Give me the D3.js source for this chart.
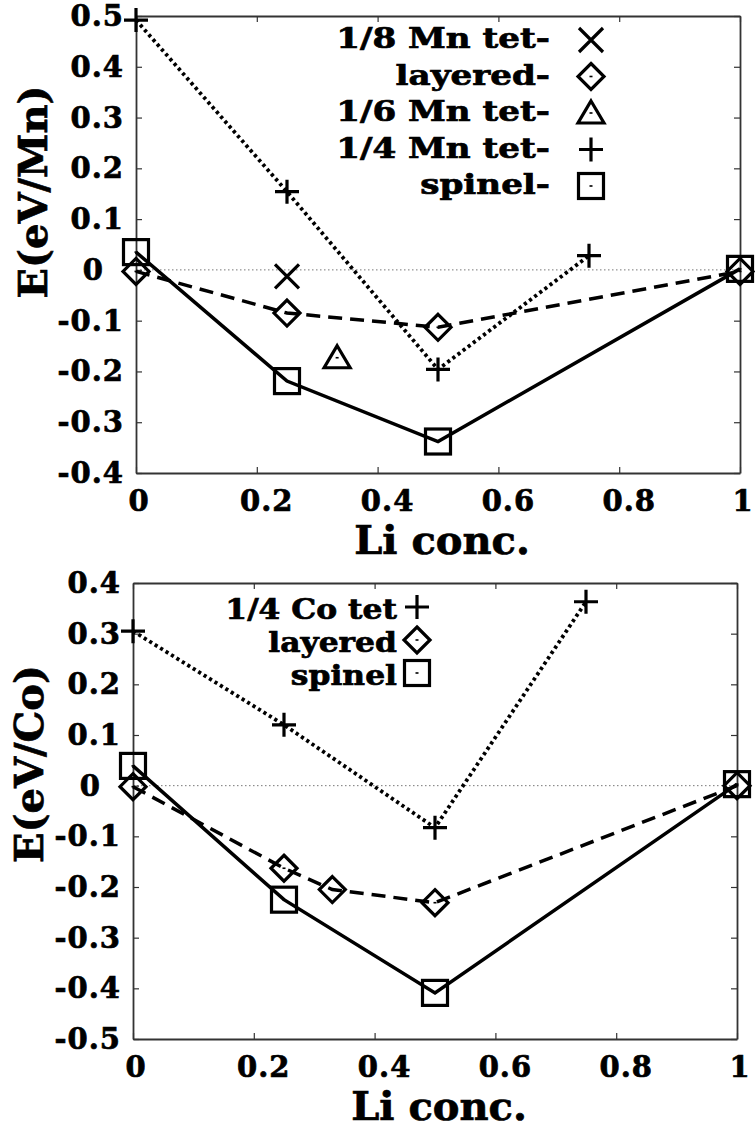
<!DOCTYPE html>
<html>
<head>
<meta charset="utf-8">
<script src="https://cdn.jsdelivr.net/npm/d3@7"></script>
<style>
  body { margin: 0; background: #fff; }
  svg text { font-family: "DejaVu Serif", serif; font-weight: bold; fill: #000; stroke: #000; stroke-width: 0.7; }
</style>
</head>
<body>
<svg id="chart" width="755" height="1135"></svg>
<script>
// ---- data: Mn panel ----
var mnSpinelX = [0, 0.25, 0.5, 1];
var mnSpinelE = [0.035, -0.219, -0.338, 0.002];
var mnLayeredX = [0, 0.25, 0.5, 1];
var mnLayeredE = [-0.003, -0.085, -0.113, -0.003];
var mnTet4X = [0, 0.25, 0.5, 0.75];
var mnTet4E = [0.492, 0.154, -0.196, 0.028];
var mnTet8X = [0.25];
var mnTet8E = [-0.013];
var mnTet6X = [0.333];
var mnTet6E = [-0.173];
var mnLegend = ["1/8 Mn tet-", "layered-", "1/6 Mn tet-", "1/4 Mn tet-", "spinel-"];
var mnYTicks = [-0.4, -0.3, -0.2, -0.1, 0, 0.1, 0.2, 0.3, 0.4, 0.5];

// ---- data: Co panel ----
var coTet4X = [0, 0.25, 0.5, 0.75];
var coTet4E = [0.305, 0.12, -0.083, 0.363];
var coLayeredX = [0, 0.25, 0.33, 0.5, 1];
var coLayeredE = [-0.002, -0.163, -0.205, -0.231, 0];
var coSpinelX = [0, 0.25, 0.5, 1];
var coSpinelE = [0.039, -0.225, -0.409, 0.003];
var coLegend = ["1/4 Co tet", "layered", "spinel"];
var coYTicks = [-0.5, -0.4, -0.3, -0.2, -0.1, 0, 0.1, 0.2, 0.3, 0.4];

var xTicks = [0, 0.2, 0.4, 0.6, 0.8, 1];
var xTickLabels = ["0", "0.2", "0.4", "0.6", "0.8", "1"];

var svg = d3.select("#chart");

function pts(xs, ys) { return xs.map(function(x, i) { return [x, ys[i]]; }); }

// gnuplot-ish point symbols, drawn around (0,0)
function marker(g, type) {
  var s = g.append("g").attr("fill", "none").attr("stroke", "#000").attr("stroke-width", 3.2);
  if (type === "square") {
    s.append("rect").attr("x", -12.5).attr("y", -12.5).attr("width", 25).attr("height", 25);
  } else if (type === "diamond") {
    s.append("path").attr("d", "M0,-13L13,0L0,13L-13,0Z");
  } else if (type === "triangle") {
    s.append("path").attr("d", "M0,-12L13,10L-13,10Z");
  } else if (type === "plus") {
    s.append("path").attr("d", "M-12,0H12M0,-12V12");
  } else if (type === "cross") {
    s.append("path").attr("d", "M-12,-12L12,12M12,-12L-12,12");
  }
  if (type !== "plus" && type !== "cross") {
    s.append("rect").attr("x", -1.5).attr("y", -0.8).attr("width", 3).attr("height", 1.6)
      .attr("fill", "#000").attr("stroke", "none");
  }
}

var dashStyle = {
  solid: null,
  dashed: "14,8",
  dotted: "3.2,3.2"
};

function drawPanel(cfg) {
  var x = d3.scaleLinear().domain([0, 1]).range([cfg.left, cfg.right]);
  var y = d3.scaleLinear().domain(cfg.yDomain).range([cfg.bottom, cfg.top]);
  var g = svg.append("g");

  // zero reference line
  g.append("line")
    .attr("x1", x(0)).attr("x2", x(1)).attr("y1", y(0)).attr("y2", y(0))
    .attr("stroke", "#777").attr("stroke-width", 1).attr("stroke-dasharray", "1.5,2.5");

  // axes (inward ticks, mirrored)
  var tk = 6;
  g.append("g").attr("transform", "translate(0," + cfg.bottom + ")")
    .call(d3.axisBottom(x).tickValues(xTicks).tickSizeInner(-tk).tickSizeOuter(0).tickFormat(""));
  g.append("g").attr("transform", "translate(0," + cfg.top + ")")
    .call(d3.axisTop(x).tickValues(xTicks).tickSizeInner(-tk).tickSizeOuter(0).tickFormat(""));
  g.append("g").attr("transform", "translate(" + cfg.left + ",0)")
    .call(d3.axisLeft(y).tickValues(cfg.yTicks).tickSizeInner(-tk).tickSizeOuter(0).tickFormat(""));
  g.append("g").attr("transform", "translate(" + cfg.right + ",0)")
    .call(d3.axisRight(y).tickValues(cfg.yTicks).tickSizeInner(-tk).tickSizeOuter(0).tickFormat(""));
  g.selectAll(".domain").attr("stroke", "#333").attr("stroke-width", 1.8);
  g.selectAll(".tick line").attr("stroke", "#333").attr("stroke-width", 1.2);

  // tick labels
  g.selectAll(".xlab").data(xTicks).enter().append("text")
    .attr("x", function(d) { return x(d) + (d === 0 ? 3 : (d === 1 ? 3 : 10)); })
    .attr("y", cfg.bottom + 38)
    .attr("text-anchor", "middle").attr("font-size", 29).attr("letter-spacing", 1)
    .text(function(d, i) { return xTickLabels[i]; });
  g.selectAll(".ylab").data(cfg.yTicks).enter().append("text")
    .attr("x", function(d) { return cfg.left - 12 - (d === 0 ? 20 : 0); })
    .attr("y", function(d) { return y(d) + 10; })
    .attr("text-anchor", "end").attr("font-size", 29).attr("letter-spacing", 1)
    .text(function(d) { return d === 0 ? "0" : d3.format(".1f")(d).replace("\u2212", "-"); });

  // axis titles
  g.append("text")
    .attr("x", (cfg.left + cfg.right) / 2 + 4).attr("y", cfg.bottom + 81)
    .attr("text-anchor", "middle").attr("font-size", 40).text("Li conc.");
  g.append("text")
    .attr("transform", "translate(" + cfg.yTitleX + "," + cfg.yTitleY + ") rotate(-90)")
    .attr("text-anchor", "middle").attr("font-size", 40).text(cfg.yTitle);

  var line = d3.line().x(function(d) { return x(d[0]); }).y(function(d) { return y(d[1]); });

  cfg.series.forEach(function(s) {
    var data = pts(s.x, s.y);
    if (s.line) {
      g.append("path").datum(data).attr("d", line)
        .attr("fill", "none").attr("stroke", "#000")
        .attr("stroke-width", s.line === "dotted" ? 3.8 : 3.5)
        .attr("stroke-dasharray", dashStyle[s.line]);
    }
    data.forEach(function(d) {
      marker(g.append("g").attr("transform", "translate(" + x(d[0]) + "," + y(d[1]) + ")"), s.marker);
    });
  });

  // legend
  cfg.legend.forEach(function(lab, i) {
    var by = cfg.legY + i * cfg.legStep;
    g.append("text")
      .attr("transform", "translate(" + cfg.legTextX + "," + by + ") scale(" + cfg.legScale + ",1)")
      .attr("text-anchor", "end").attr("font-size", cfg.legFont).text(lab);
    marker(g.append("g").attr("transform", "translate(" + cfg.legMarkX + "," + (by + cfg.legMarkDy) + ")"),
      cfg.legMarkers[i]);
  });
}

drawPanel({
  left: 136, right: 740, top: 16, bottom: 473,
  yDomain: [-0.4, 0.5], yTicks: mnYTicks,
  yTitle: "E(eV/Mn)", yTitleX: 47, yTitleY: 192,
  series: [
    { x: mnTet4X, y: mnTet4E, marker: "plus", line: "dotted" },
    { x: mnLayeredX, y: mnLayeredE, marker: "diamond", line: "dashed" },
    { x: mnSpinelX, y: mnSpinelE, marker: "square", line: "solid" },
    { x: mnTet8X, y: mnTet8E, marker: "cross", line: null },
    { x: mnTet6X, y: mnTet6E, marker: "triangle", line: null }
  ],
  legend: mnLegend,
  legMarkers: ["cross", "diamond", "triangle", "plus", "square"],
  legY: 48, legStep: 36.5, legTextX: 550, legMarkX: 591, legMarkDy: -8,
  legFont: 28, legScale: 1.22
});

drawPanel({
  left: 133, right: 737, top: 583, bottom: 1039,
  yDomain: [-0.5, 0.4], yTicks: coYTicks,
  yTitle: "E(eV/Co)", yTitleX: 43, yTitleY: 764,
  series: [
    { x: coTet4X, y: coTet4E, marker: "plus", line: "dotted" },
    { x: coLayeredX, y: coLayeredE, marker: "diamond", line: "dashed" },
    { x: coSpinelX, y: coSpinelE, marker: "square", line: "solid" }
  ],
  legend: coLegend,
  legMarkers: ["plus", "diamond", "square"],
  legY: 619, legStep: 33, legTextX: 397, legMarkX: 417, legMarkDy: -12,
  legFont: 28, legScale: 1.12
});
</script>
</body>
</html>
